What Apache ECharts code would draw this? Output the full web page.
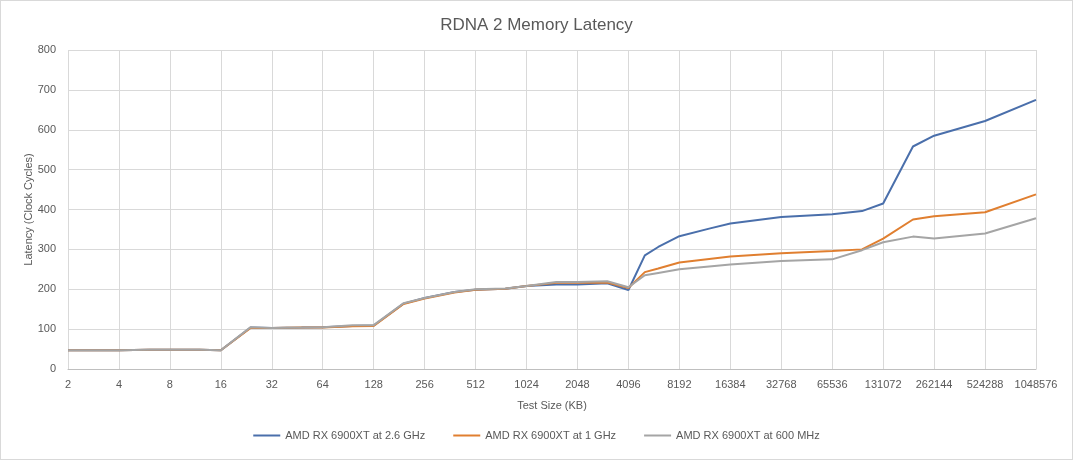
<!DOCTYPE html>
<html>
<head>
<meta charset="utf-8">
<script src="https://cdn.jsdelivr.net/npm/echarts@6/dist/echarts.min.js"></script>
<style>
  html, body { margin: 0; padding: 0; background: #fff; }
  #chart { width: 1073px; height: 460px; box-sizing: border-box; border: 1px solid #d9d9d9; }
</style>
</head>
<body>
<div id="chart"></div>
<script>
// test sizes in KB
let sizes = [2, 4, 6, 8, 12, 16, 24, 32, 48, 64, 96, 128, 192, 256, 384, 512, 768, 1024, 1536, 2048, 3072, 4096,
  5120, 6144, 8192, 12288, 16384, 32768, 65536, 98304, 131072, 196608, 262144, 524288, 1048576]
let lat26 = [47, 47, 48, 48, 48, 47, 104, 103, 104, 105, 108, 109, 164, 178, 193, 199, 201, 208, 212, 212, 215, 198,
  285, 306, 333, 352, 365, 381, 388, 396, 415, 558, 585, 622, 675]
let lat1 = [47, 47, 48, 48, 48, 47, 103, 103, 104, 104, 107, 108, 163, 177, 192, 199, 201, 208, 216, 216, 217, 203,
  243, 252, 267, 276, 282, 290, 296, 300, 327, 375, 383, 393, 438]
let lat600 = [47, 47, 48, 48, 48, 47, 105, 103, 104, 105, 110, 110, 165, 178, 193, 200, 202, 208, 218, 218, 220, 205,
  235, 241, 250, 257, 262, 271, 275, 298, 318, 332, 327, 340, 378]
let names = ['AMD RX 6900XT at 2.6 GHz', 'AMD RX 6900XT at 1 GHz', 'AMD RX 6900XT at 600 MHz']
let colors = ['#4a6fab', '#e07f30', '#a5a5a5']

function zip(vals){
  return sizes.map((s, i) => [s, vals[i]])
}

var myChart = echarts.init(document.getElementById('chart'))
var textColor = '#595959'
var font = 'Liberation Sans'
var option = {
  animation: false,
  color: colors,
  textStyle: { fontFamily: font },
  title: {
    text: 'RDNA 2 Memory Latency',
    left: 'center',
    top: 11,
    textStyle: { fontSize: 17, fontWeight: 'normal', color: textColor, fontFamily: font }
  },
  grid: { left: 67, right: 36, top: 49, bottom: 90 },
  xAxis: {
    type: 'log',
    logBase: 2,
    min: 2,
    max: 1048576,
    interval: 1,
    name: 'Test Size (KB)',
    nameLocation: 'middle',
    nameGap: 31,
    nameTextStyle: { color: textColor, fontSize: 11 },
    axisLine: { show: true, lineStyle: { color: '#bfbfbf' } },
    axisTick: { show: false },
    axisLabel: {
      color: textColor, fontSize: 11, margin: 10,
      formatter: v => String(Math.round(v))
    },
    splitLine: { show: true, lineStyle: { color: '#d9d9d9' } }
  },
  yAxis: {
    type: 'value',
    min: 0,
    max: 800,
    interval: 100,
    name: 'Latency (Clock Cycles)',
    nameLocation: 'middle',
    nameGap: 34,
    nameMoveOverlap: false,
    nameTextStyle: { color: textColor, fontSize: 11 },
    axisLine: { show: false },
    axisTick: { show: false },
    axisLabel: { color: textColor, fontSize: 11, margin: 12 },
    splitLine: { lineStyle: { color: '#d9d9d9' } }
  },
  legend: {
    bottom: 13,
    left: 'center',
    icon: 'rect',
    itemWidth: 27,
    itemHeight: 2,
    itemGap: 28,
    textStyle: { color: textColor, fontSize: 11 },
    data: names
  },
  series: [lat26, lat1, lat600].map((vals, i) => ({
    name: names[i],
    type: 'line',
    data: zip(vals),
    showSymbol: false,
    lineStyle: { width: 2 }
  }))
}
myChart.setOption(option)
</script>
</body>
</html>
